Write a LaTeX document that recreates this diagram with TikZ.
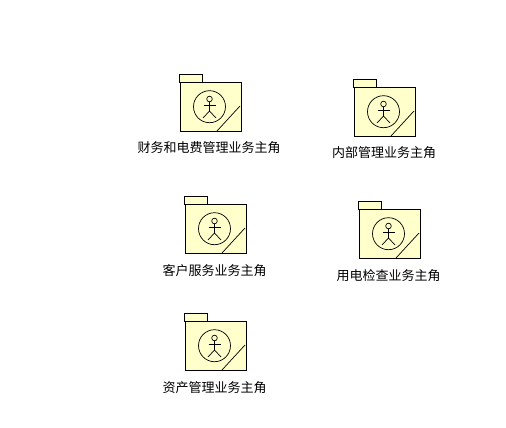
\documentclass[tikz,border=0pt]{standalone}
\usepackage{fontspec}
\newfontfamily\cjk{Noto Sans CJK SC}[Scale=1]
\tikzset{
  pkgline/.style={draw=black,line width=1pt,fill=pkgfill},
  thinline/.style={draw=black,line width=0.7pt},
  pkglabel/.style={font=\cjk\fontsize{13}{13}\selectfont,inner sep=0pt,anchor=center,text=black},
  actorpkg/.pic={
    \draw[pkgline] (0,0) rectangle (23,8);
    \draw[pkgline] (1,8) rectangle (62,57);
    \draw[thinline] (30,32.2) circle (16);
    \draw[thinline] (30,24.5) circle (2.8);
    \draw[thinline] (30,27.3) -- (30,36.5);
    \draw[thinline] (24,30.5) -- (36,30.5);
    \draw[thinline] (23.5,43.5) -- (30,36.5) -- (36.5,43.5);
    \draw[thinline] (37.5,56.5) -- (60.5,31.5);
  }
}
\definecolor{pkgfill}{RGB}{255,255,204}
\begin{document}
\begin{tikzpicture}[x=1pt,y=-1pt]
\useasboundingbox[fill=white] (0,0) rectangle (506,428);
\pic at (179.5,74.5) {actorpkg};
\pic at (353.5,79.5) {actorpkg};
\pic at (184.5,196.5) {actorpkg};
\pic at (358.5,201.5) {actorpkg};
\pic at (184.5,313.5) {actorpkg};
\node[pkglabel] (a) at (209,147.5) {财务和电费管理业务主角};
\node[pkglabel] (b) at (384,152.5) {内部管理业务主角};
\node[pkglabel] (c) at (214.5,270.5) {客户服务业务主角};
\node[pkglabel] (d) at (388.5,275.5) {用电检查业务主角};
\node[pkglabel] (e) at (214.5,387.5) {资产管理业务主角};
\end{tikzpicture}
\end{document}
